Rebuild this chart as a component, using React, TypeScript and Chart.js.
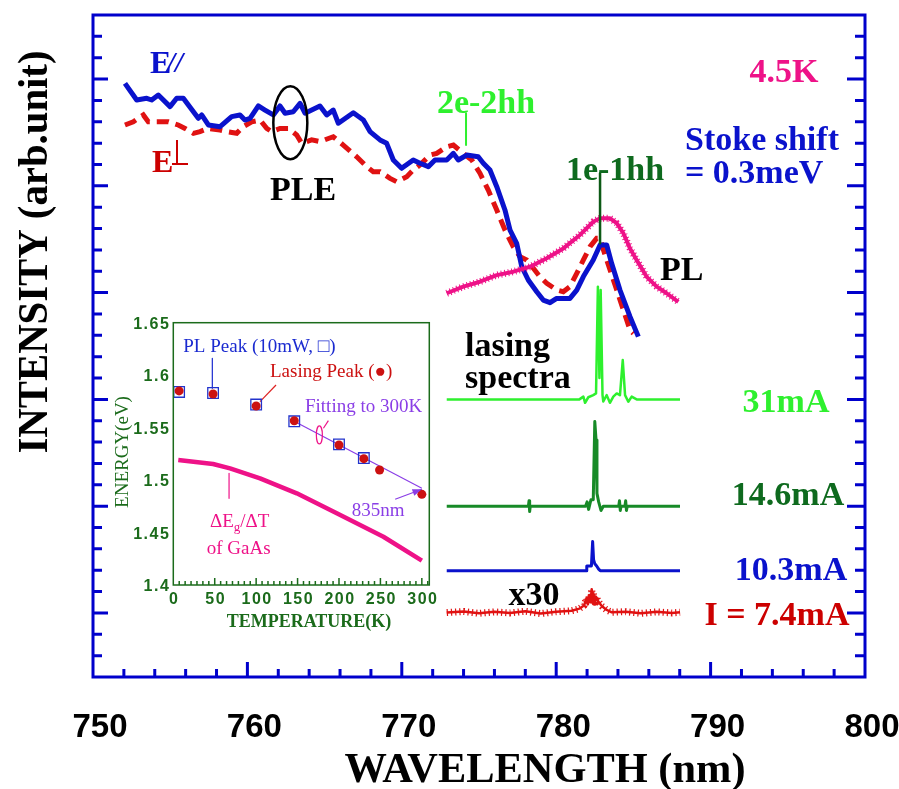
import React, { useEffect, useRef } from "react";
import { Chart, registerables } from "chart.js";

Chart.register(...registerables);

// ---------------- DATA (main chart: x = wavelength nm, y = arb. units) ----------------
const X_MIN = 750;
const X_MAX = 800;
const Y_MIN = 0;
const Y_MAX = 31;
const xTickLabels = ["750", "760", "770", "780", "790", "800"];
const xTickValues = [750, 760, 770, 780, 790, 800];

const pleParallel: [number, number][] = [
  [752.07, 27.8], [752.83, 27.02], [753.48, 27.1], [753.8, 27.02], [754.23, 27.25], [754.99, 26.71],
  [755.42, 27.1], [755.85, 27.1], [756.82, 26.16], [757.04, 26.32], [757.47, 25.85], [758.23, 25.77],
  [758.98, 26.24], [759.52, 26.32], [759.84, 26.08], [760.17, 26.16], [760.71, 26.74], [761.14, 26.55],
  [761.68, 26.32], [762.11, 26.74], [762.44, 26.4], [762.97, 26.47], [763.41, 26.86], [763.73, 26.4],
  [764.7, 26.74], [765.14, 26.32], [765.56, 26.55], [765.89, 25.93], [766.86, 26.42], [767.51, 26.08],
  [767.94, 25.54], [768.59, 25.15], [769.02, 24.99], [769.45, 24.21], [769.99, 23.82], [770.74, 24.21],
  [771.18, 24.06], [771.72, 23.9], [772.15, 24.21], [772.91, 24.21], [773.34, 24.52], [773.66, 24.21],
  [774.2, 24.44], [774.95, 24.36], [775.28, 24.06], [775.71, 23.74], [776.15, 22.96], [776.68, 21.87],
  [777.01, 20.93], [777.44, 20.31], [777.77, 19.21], [778.19, 18.59], [778.74, 18.04], [779.16, 17.65],
  [779.6, 17.53], [780.03, 17.73], [780.89, 17.73], [781.33, 18.12], [781.76, 18.75], [782.4, 19.53],
  [782.84, 20.23], [783.27, 20.23], [783.59, 19.37], [784.13, 18.12], [784.78, 16.87], [785.32, 15.94],
];

const plePerp: [number, number][] = [
  [752.07, 25.85], [752.61, 26.0], [753.26, 26.32], [753.58, 26.0], [754.34, 26.0], [754.88, 26.0],
  [755.52, 25.85], [755.96, 25.69], [756.5, 25.46], [756.93, 25.54], [757.47, 25.69], [758.23, 25.61],
  [758.66, 25.54], [759.31, 25.46], [759.73, 25.77], [760.28, 26.0], [760.82, 26.08], [761.25, 25.69],
  [761.57, 25.54], [762.11, 25.69], [762.65, 25.69], [763.19, 25.38], [763.52, 24.99], [764.16, 25.15],
  [764.7, 25.07], [765.56, 25.3], [766.21, 24.91], [767.08, 24.36], [767.73, 23.9], [768.15, 23.66],
  [768.59, 23.66], [769.24, 23.35], [769.67, 23.19], [770.32, 23.43], [770.74, 23.74], [771.18, 23.98],
  [771.83, 24.44], [772.26, 24.52], [772.91, 24.83], [773.34, 24.91], [773.98, 24.52], [774.53, 24.21],
  [775.06, 23.59], [775.6, 22.8], [776.15, 21.87], [776.68, 20.93], [777.22, 20.15], [777.66, 19.68],
  [778.09, 19.53], [778.52, 19.14], [778.95, 18.74], [779.39, 18.44], [780.03, 18.12], [780.46, 18.04],
  [780.89, 18.28], [781.33, 18.9], [781.76, 19.53], [782.19, 20.15], [782.62, 20.54], [782.84, 20.54],
  [783.06, 19.99], [783.49, 19.06], [783.92, 18.12], [784.35, 17.19], [784.78, 16.25], [785.0, 16.09],
];

const plSpectrum: [number, number][] = [
  [772.91, 17.97], [773.98, 18.28], [775.06, 18.51], [776.15, 18.82], [777.22, 18.98], [778.3, 19.21],
  [779.39, 19.61], [780.46, 20.07], [781.54, 20.7], [782.4, 21.32], [782.84, 21.48], [783.49, 21.48],
  [783.92, 21.25], [784.35, 20.78], [784.78, 20.07], [785.21, 19.53], [785.86, 18.74], [786.51, 18.28],
  [787.15, 17.97], [787.91, 17.57],
];

const lasing31mA: [number, number][] = [
  [772.91, 13.0], [781.5, 13.0], [781.76, 13.13], [781.87, 12.84], [782.08, 13.1], [782.4, 13.2],
  [782.58, 13.28], [782.7, 18.28], [782.8, 14.0], [782.88, 18.12], [783.0, 13.2], [783.05, 12.9],
  [783.27, 13.2], [783.48, 12.84], [783.7, 13.13], [783.92, 13.28], [784.13, 13.2], [784.31, 14.84],
  [784.46, 13.2], [784.67, 12.89], [784.89, 13.13], [785.21, 13.0], [788.02, 13.0],
];

const lasing14mA: [number, number][] = [
  [772.91, 8.0], [778.2, 8.0], [778.24, 8.25], [778.28, 7.75], [778.32, 8.0], [781.9, 8.0],
  [782.0, 8.2], [782.1, 7.85], [782.25, 8.3], [782.4, 8.3], [782.5, 11.96], [782.58, 11.1],
  [782.64, 8.6], [782.75, 8.2], [782.9, 7.8], [783.05, 8.0], [784.05, 8.0], [784.1, 8.25],
  [784.15, 7.8], [784.2, 8.0], [784.45, 8.0], [784.5, 8.25], [784.55, 7.8], [784.6, 8.0], [788.02, 8.0],
];

const lasing10mA: [number, number][] = [
  [772.91, 4.98], [781.95, 4.98], [781.98, 5.2], [782.28, 5.2], [782.36, 6.34], [782.42, 5.5],
  [782.5, 5.3], [782.62, 5.2], [782.75, 5.05], [782.85, 4.98], [788.02, 4.98],
];

const lasing7mA: [number, number][] = [
  [772.91, 3.02], [774.0, 3.07], [775.0, 2.98], [776.0, 3.05], [777.0, 3.0], [778.0, 3.08],
  [779.0, 2.97], [780.0, 3.06], [781.0, 3.1], [781.5, 3.2], [781.8, 3.35], [781.97, 3.69],
  [782.05, 3.4], [782.14, 3.84], [782.22, 3.5], [782.3, 4.11], [782.35, 3.6], [782.4, 3.92],
  [782.5, 3.5], [782.58, 3.76], [782.73, 3.53], [782.95, 3.32], [783.27, 3.14], [783.6, 3.03],
  [784.5, 3.06], [785.5, 2.98], [786.5, 3.05], [787.5, 3.0], [788.02, 3.03],
];

const mark2e2hh: [number, number][] = [[774.16, 26.4], [774.16, 24.91]];
const mark1e1hh: [number, number][] = [[782.84, 23.59], [782.84, 20.31]];
const pleMarkerCenter: [number, number] = [762.78, 25.96];

// ---------------- DATA (inset: x = temperature K, y = energy eV) ----------------
const IN_X_MIN = 0;
const IN_X_MAX = 309;
const IN_Y_MIN = 1.4;
const IN_Y_MAX = 1.65;
const inXTickValues = [0, 50, 100, 150, 200, 250, 300];
const inXTickLabels = ["0", "50", "100", "150", "200", "250", "300"];
const inYTickValues = [1.4, 1.45, 1.5, 1.55, 1.6, 1.65];
const inYTickLabels = ["1.4", "1.45", "1.5", "1.55", "1.6", "1.65"];

const plPeakT = [7, 48, 100, 146, 200, 230];
const plPeakE = [1.584, 1.583, 1.572, 1.556, 1.534, 1.521];
const lasingPeakT = [7, 48, 100, 146, 200, 230, 249, 300];
const lasingPeakE = [1.585, 1.582, 1.5706, 1.5566, 1.5334, 1.5204, 1.5096, 1.4864];
const gaasT = [6, 48, 68.5, 104.7, 149, 197.3, 253.6, 300];
const gaasE = [1.5191, 1.5153, 1.5112, 1.5017, 1.4874, 1.4683, 1.446, 1.4232];
const fitLine: [number, number][] = [[145.8, 1.556], [300, 1.4922]];
const arrow835: [number, number][] = [[267.8, 1.4817], [300, 1.4913]];
const plPeakPointer: [number, number][] = [[47.1, 1.616], [47.1, 1.5875]];
const lasingPointer: [number, number][] = [[124, 1.5906], [104.7, 1.5747]];
const gaasPointer: [number, number][] = [[67.3, 1.5065], [67.3, 1.4826]];
const fitPointer: [number, number][] = [[181.2, 1.5494], [187.2, 1.5566]];
const fitEllipseCenter: [number, number] = [176.3, 1.543];

// ---------------- STYLE ----------------
const W = 899;
const H = 789;
const SERIF = '"Liberation Serif", "Times New Roman", serif';
const SANS = '"Liberation Sans", Arial, sans-serif';
const AXIS = "#0000cc";
const BLUE = "#0a12cc";
const RED = "#e01212";
const DARK_RED = "#cc0000";
const PINK = "#ee1288";
const G_BRIGHT = "#2ef02e";
const G_DARK = "#0e6a1e";
const G_MID = "#178a27";
const IN_GREEN = "#1b6b1b";
const PURPLE = "#8a3ee6";
const IN_BLUE = "#1a2ad0";
const INSET_BOX = { left: 100, top: 300, width: 340, height: 340 };

const pts = (a: [number, number][]) => a.map(([x, y]) => ({ x, y }));
const zip = (xs: number[], ys: number[]) => xs.map((x, i) => ({ x, y: ys[i] }));

function line(data: any[], color: string, width: number, order: number, extra: any = {}) {
  return {
    data,
    showLine: true,
    borderColor: color,
    backgroundColor: color,
    borderWidth: width,
    pointRadius: 0,
    tension: 0,
    order,
    borderJoinStyle: "round",
    ...extra,
  };
}

type Txt = { text: string; x: number; y: number; color: string; align?: CanvasTextAlign; font?: string };
const BIG = `bold 34px ${SERIF}`;
const mainTexts: Txt[] = [
  { text: "2e-2hh", x: 486, y: 113, color: G_BRIGHT, align: "center" },
  { text: "1e-1hh", x: 615, y: 180, color: G_DARK, align: "center" },
  { text: "4.5K", x: 784, y: 82, color: PINK, align: "center" },
  { text: "Stoke shift", x: 685, y: 150, color: BLUE },
  { text: "= 0.3meV", x: 685, y: 183, color: BLUE },
  { text: "PLE", x: 270, y: 200, color: "#000" },
  { text: "PL", x: 660, y: 280, color: "#000" },
  { text: "lasing", x: 465, y: 356, color: "#000" },
  { text: "spectra", x: 465, y: 388, color: "#000" },
  { text: "31mA", x: 786, y: 412, color: G_BRIGHT, align: "center" },
  { text: "14.6mA", x: 788, y: 505, color: G_DARK, align: "center" },
  { text: "10.3mA", x: 791, y: 580, color: BLUE, align: "center" },
  { text: "I = 7.4mA", x: 777, y: 625, color: DARK_RED, align: "center" },
  { text: "x30", x: 534, y: 605, color: "#000", align: "center" },
];

const IN_FONT = `19px ${SERIF}`;
const insetTexts: Txt[] = [
  { text: "PL Peak (10mW, \u25A1)", x: 183.3, y: 352, color: IN_BLUE, font: IN_FONT },
  { text: "Lasing Peak (\u25CF)", x: 270, y: 377, color: "#cc1111", font: IN_FONT },
  { text: "Fitting to 300K", x: 305, y: 412, color: PURPLE, font: IN_FONT },
  { text: "835nm", x: 351.7, y: 516, color: PURPLE, font: IN_FONT },
  { text: "of GaAs", x: 206.7, y: 554, color: PINK, font: IN_FONT },
];

function drawTxt(ctx: CanvasRenderingContext2D, t: Txt, dx = 0, dy = 0) {
  ctx.save();
  ctx.font = t.font || BIG;
  ctx.fillStyle = t.color;
  ctx.textAlign = t.align || "left";
  ctx.textBaseline = "alphabetic";
  ctx.fillText(t.text, t.x - dx, t.y - dy);
  ctx.restore();
}

function drawFitted(ctx: CanvasRenderingContext2D, text: string, cx: number, cy: number, font: string, width: number, rotate = 0) {
  ctx.save();
  ctx.font = font;
  ctx.fillStyle = "#000";
  ctx.textAlign = "center";
  ctx.textBaseline = "alphabetic";
  const m = ctx.measureText(text).width;
  ctx.translate(cx, cy);
  if (rotate) ctx.rotate(rotate);
  ctx.scale(width / m, 1);
  ctx.fillText(text, 0, 0);
  ctx.restore();
}

const mainDecor = {
  id: "mainDecor",
  afterDraw(chart: any) {
    const { ctx, chartArea: a } = chart;
    const xs = chart.scales.x;
    const ys = chart.scales.y;
    ctx.save();
    ctx.strokeStyle = AXIS;
    ctx.lineWidth = 3;
    ctx.strokeRect(a.left, a.top, a.right - a.left, a.bottom - a.top);
    ctx.beginPath();
    for (let v = Y_MIN + 1; v < Y_MAX; v += 1) {
      const p = ys.getPixelForValue(v);
      const major = (v - 3) % 5 === 0;
      ctx.moveTo(a.left, p);
      ctx.lineTo(a.left + (major ? 15 : 9), p);
      ctx.moveTo(a.right, p);
      ctx.lineTo(a.right - (major ? 18 : 10), p);
    }
    for (let v = X_MIN + 2; v < X_MAX; v += 2) {
      const p = xs.getPixelForValue(v);
      const major = v % 10 === 0;
      ctx.moveTo(p, a.bottom);
      ctx.lineTo(p, a.bottom - (major ? 15 : 8));
    }
    ctx.stroke();

    // x tick labels
    ctx.fillStyle = "#000";
    ctx.font = `bold 33px ${SANS}`;
    ctx.textAlign = "center";
    ctx.textBaseline = "alphabetic";
    xTickValues.forEach((v, i) => {
      ctx.fillText(xTickLabels[i], xs.getPixelForValue(v) + 7, 737);
    });

    // axis titles
    drawFitted(ctx, "WAVELENGTH (nm)", 545, 782, `bold 42px ${SERIF}`, 401);
    drawFitted(ctx, "INTENSITY (arb.unit)", 47, 252, `bold 42px ${SERIF}`, 403, -Math.PI / 2);

    // PLE marker ellipse
    ctx.strokeStyle = "#000";
    ctx.lineWidth = 2.5;
    ctx.beginPath();
    ctx.ellipse(xs.getPixelForValue(pleMarkerCenter[0]), ys.getPixelForValue(pleMarkerCenter[1]), 17, 36.5, 0, 0, Math.PI * 2);
    ctx.stroke();

    // texts
    mainTexts.forEach((t) => drawTxt(ctx, t));

    // E// label
    ctx.fillStyle = BLUE;
    ctx.font = `bold 32px ${SERIF}`;
    ctx.textAlign = "left";
    ctx.fillText("E", 150, 73);
    ctx.font = `italic bold 29px ${SERIF}`;
    ctx.fillText("//", 167, 72);

    // E⊥ label
    ctx.fillStyle = DARK_RED;
    ctx.font = `bold 32px ${SERIF}`;
    ctx.fillText("E", 152, 172);
    ctx.strokeStyle = DARK_RED;
    ctx.lineWidth = 2;
    ctx.beginPath();
    ctx.moveTo(177, 140);
    ctx.lineTo(177, 165);
    ctx.moveTo(172, 164);
    ctx.lineTo(188, 164);
    ctx.stroke();
    ctx.restore();
  },
};

const insetDecor = {
  id: "insetDecor",
  afterDraw(chart: any) {
    const { ctx, chartArea: a } = chart;
    const xs = chart.scales.x;
    const ys = chart.scales.y;
    const dx = INSET_BOX.left;
    const dy = INSET_BOX.top;
    ctx.save();
    ctx.strokeStyle = IN_GREEN;
    ctx.lineWidth = 1.5;
    ctx.strokeRect(a.left, a.top, a.right - a.left, a.bottom - a.top);
    ctx.beginPath();
    const step = 50 / 7;
    for (let i = 1; i * step < IN_X_MAX; i++) {
      const p = xs.getPixelForValue(i * step);
      const major = i % 7 === 0;
      ctx.moveTo(p, a.bottom);
      ctx.lineTo(p, a.bottom - (major ? 7 : 4));
    }
    ctx.stroke();

    ctx.fillStyle = IN_GREEN;
    ctx.font = `bold 16px ${SANS}`;
    (ctx as any).letterSpacing = "1.5px";
    ctx.textBaseline = "alphabetic";
    ctx.textAlign = "right";
    inYTickValues.forEach((v, i) => {
      ctx.fillText(inYTickLabels[i], a.left - 3, ys.getPixelForValue(v) + 6);
    });
    ctx.textAlign = "center";
    inXTickValues.forEach((v, i) => {
      ctx.fillText(inXTickLabels[i], xs.getPixelForValue(v) + 1, a.bottom + 19);
    });
    (ctx as any).letterSpacing = "0px";

    ctx.font = `bold 18px ${SERIF}`;
    ctx.fillText("TEMPERATURE(K)", 309 - dx, 627 - dy);
    ctx.save();
    ctx.translate(128 - dx, 452 - dy);
    ctx.rotate(-Math.PI / 2);
    ctx.font = `19px ${SERIF}`;
    ctx.fillText("ENERGY(eV)", 0, 0);
    ctx.restore();

    // fit ellipse
    ctx.strokeStyle = PINK;
    ctx.lineWidth = 1.2;
    ctx.beginPath();
    ctx.ellipse(xs.getPixelForValue(fitEllipseCenter[0]), ys.getPixelForValue(fitEllipseCenter[1]), 3, 9, 0, 0, Math.PI * 2);
    ctx.stroke();

    // arrow head for 835nm
    const x0 = xs.getPixelForValue(arrow835[0][0]);
    const y0 = ys.getPixelForValue(arrow835[0][1]);
    const x1 = xs.getPixelForValue(arrow835[1][0]);
    const y1 = ys.getPixelForValue(arrow835[1][1]);
    const ang = Math.atan2(y1 - y0, x1 - x0);
    ctx.fillStyle = PURPLE;
    ctx.beginPath();
    ctx.moveTo(x1, y1);
    ctx.lineTo(x1 - 10 * Math.cos(ang - 0.35), y1 - 10 * Math.sin(ang - 0.35));
    ctx.lineTo(x1 - 10 * Math.cos(ang + 0.35), y1 - 10 * Math.sin(ang + 0.35));
    ctx.closePath();
    ctx.fill();

    insetTexts.forEach((t) => drawTxt(ctx, t, dx, dy));

    // ΔEg/ΔT
    ctx.fillStyle = PINK;
    ctx.textAlign = "left";
    ctx.font = IN_FONT;
    let x = 210 - dx;
    const by = 527 - dy;
    ctx.fillText("\u0394E", x, by);
    x += ctx.measureText("\u0394E").width;
    ctx.font = `13px ${SERIF}`;
    ctx.fillText("g", x, by + 4);
    x += ctx.measureText("g").width;
    ctx.font = IN_FONT;
    ctx.fillText("/\u0394T", x, by);
    ctx.restore();
  },
};

export default function App() {
  const mainRef = useRef<HTMLCanvasElement>(null);
  const insetRef = useRef<HTMLCanvasElement>(null);

  useEffect(() => {
    document.body.style.margin = "0";
    const main = new Chart(mainRef.current as HTMLCanvasElement, {
      type: "scatter",
      data: {
        datasets: [
          line(pts(mark2e2hh), G_BRIGHT, 2, 1),
          line(pts(mark1e1hh), "#0c5a16", 2.5, 1),
          line(pts(plSpectrum), PINK, 7, 2, { borderDash: [1, 2.6] }),
          line(pts(plSpectrum), PINK, 4, 2),
          line(pts(pleParallel), BLUE, 5, 3),
          line(pts(plePerp), RED, 5, 4, { borderDash: [12, 7], borderJoinStyle: "miter" }),
          line(pts(lasing31mA), G_BRIGHT, 2.5, 5),
          line(pts(lasing14mA), G_MID, 3, 5),
          line(pts(lasing10mA), BLUE, 3, 5),
          line(pts(lasing7mA), RED, 7, 5, { borderDash: [1.2, 3] }),
          line(pts(lasing7mA), RED, 2.5, 5),
        ],
      },
      options: {
        animation: false,
        responsive: false,
        events: [],
        layout: { padding: { left: 93, right: W - 865, top: 15, bottom: H - 677 } },
        scales: {
          x: { type: "linear", min: X_MIN, max: X_MAX, display: false },
          y: { type: "linear", min: Y_MIN, max: Y_MAX, display: false },
        },
        plugins: { legend: { display: false }, tooltip: { enabled: false } },
      } as any,
      plugins: [mainDecor],
    } as any);

    const inset = new Chart(insetRef.current as HTMLCanvasElement, {
      type: "scatter",
      data: {
        datasets: [
          {
            data: zip(lasingPeakT, lasingPeakE),
            showLine: false,
            pointStyle: "circle",
            pointRadius: 4.5,
            backgroundColor: "#cc1111",
            borderColor: "#cc1111",
            borderWidth: 0,
            order: 1,
          },
          {
            data: zip(plPeakT, plPeakE),
            showLine: false,
            pointStyle: "rect",
            pointRadius: 7.5,
            backgroundColor: "rgba(0,0,0,0)",
            borderColor: "#2233cc",
            borderWidth: 1.3,
            order: 2,
          },
          line(pts(fitLine), PURPLE, 1.2, 3),
          line(pts(arrow835), PURPLE, 1.2, 3),
          line(pts(plPeakPointer), IN_BLUE, 1.2, 3),
          line(pts(lasingPointer), "#dd2222", 1.2, 3),
          line(pts(gaasPointer), PINK, 1.2, 3),
          line(pts(fitPointer), PINK, 1.2, 3),
          line(zip(gaasT, gaasE), PINK, 4.5, 4),
        ],
      },
      options: {
        animation: false,
        responsive: false,
        events: [],
        layout: {
          padding: {
            left: 173.3 - INSET_BOX.left,
            right: INSET_BOX.left + INSET_BOX.width - 429.3,
            top: 322.7 - INSET_BOX.top,
            bottom: INSET_BOX.top + INSET_BOX.height - 585,
          },
        },
        scales: {
          x: { type: "linear", min: IN_X_MIN, max: IN_X_MAX, display: false },
          y: { type: "linear", min: IN_Y_MIN, max: IN_Y_MAX, display: false },
        },
        plugins: { legend: { display: false }, tooltip: { enabled: false } },
      } as any,
      plugins: [insetDecor],
    } as any);

    return () => {
      main.destroy();
      inset.destroy();
    };
  }, []);

  return (
    <div style={{ position: "relative", width: W, height: H, background: "#fff" }}>
      <canvas ref={mainRef} width={W} height={H} style={{ position: "absolute", left: 0, top: 0 }} />
      <canvas
        ref={insetRef}
        width={INSET_BOX.width}
        height={INSET_BOX.height}
        style={{ position: "absolute", left: INSET_BOX.left, top: INSET_BOX.top }}
      />
    </div>
  );
}
